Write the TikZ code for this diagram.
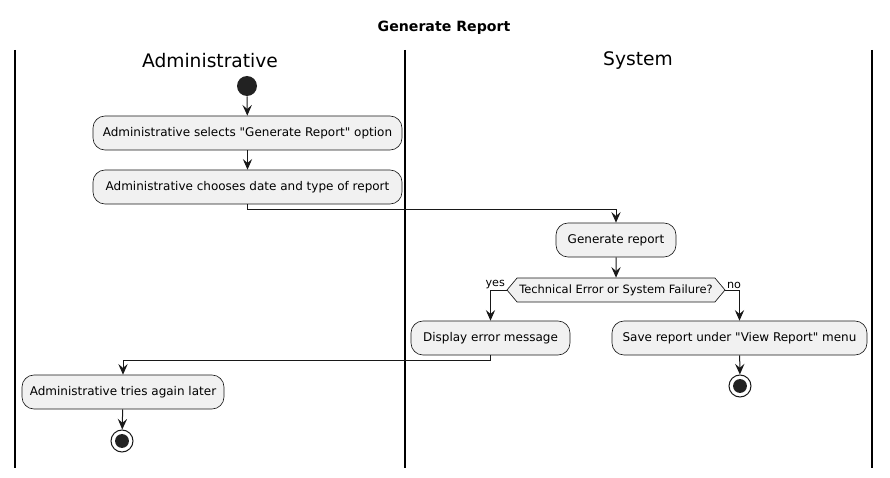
\documentclass[tikz,border=0pt]{standalone}
\usepackage{fontspec}
\setmainfont[Ligatures=TeXOff]{DejaVu Sans}
\usetikzlibrary{arrows.meta,shapes.symbols}
\definecolor{boxfill}{HTML}{F1F1F1}
\definecolor{ink}{HTML}{181818}
\definecolor{dot}{HTML}{222222}
\tikzset{
  act/.style={draw=ink,line width=0.5pt,fill=boxfill,rounded corners=9pt,minimum height=25.5pt,inner sep=0pt,font=\fontsize{9}{11}\selectfont,text=black},
  cond/.style={draw=ink,line width=0.5pt,fill=boxfill,shape=signal,signal to=west and east,signal pointer angle=100,minimum height=18pt,inner sep=0pt,font=\fontsize{8.6}{10}\selectfont},
  flow/.style={draw=ink,line width=0.75pt,-{Stealth[length=8pt,width=7pt,inset=3pt]}},
  startdot/.style={circle,fill=dot,minimum size=15pt,inner sep=0pt},
  enddot/.style={circle,draw=ink,line width=0.75pt,fill=white,minimum size=16.5pt,inner sep=0pt,path picture={\fill[dot] (path picture bounding box.center) circle (5.2pt);}},
  lane/.style={line width=1.2pt,black},
  lanehead/.style={font=\fontsize{14}{16}\selectfont},
  lbl/.style={font=\fontsize{8.4}{10}\selectfont,inner sep=0pt}
}
\begin{document}
\begin{tikzpicture}[x=0.75pt,y=-0.75pt]
\useasboundingbox (0,0) rectangle (890,478);
\node[font=\bfseries\fontsize{10.6}{12}\selectfont] (title) at (444,28) {Generate Report};
\draw[lane] (15,50) coordinate (l1t) -- (15,468) coordinate (l1b);
\draw[lane] (405,50) coordinate (l2t) -- (405,468) coordinate (l2b);
\draw[lane] (872,50) coordinate (l3t) -- (872,468) coordinate (l3b);
\node[lanehead] (h1) at (210,61) {Administrative};
\node[lanehead] (h2) at (638,61) {System};

\node[startdot] (s) at (247,86) {};
\node[act,minimum width=231.75pt] (b1) at (247.5,133) {Administrative selects "Generate Report" option};
\node[act,minimum width=231.75pt] (b2) at (247.5,187) {Administrative chooses date and type of report};
\node[act,minimum width=90pt] (b3) at (616,240) {Generate report};
\node[cond,minimum width=163.5pt] (d) at (616,290) {Technical Error or System Failure?};
\node[act,minimum width=119.25pt] (b4) at (490.5,338) {Display error message};
\node[act,minimum width=191.25pt] (b5) at (739.5,338) {Save report under "View Report" menu};
\node[enddot] (e1) at (740,386) {};
\node[act,minimum width=151.5pt] (b6) at (123,392) {Administrative tries again later};
\node[enddot] (e2) at (122,441) {};

\draw[flow] (s) -- (b1);
\draw[flow] (b1) -- (b2);
\draw[flow] (b2.south) -- ++(0,5) -| (b3.north);
\draw[flow] (b3) -- (d);
\draw[flow] (d.west) -| (b4.north);
\draw[flow] (d.east) -| (b5.north);
\draw[flow] (b5) -- (e1);
\draw[flow] (b4.south) -- ++(0,5) -| (b6.north);
\draw[flow] (b6) -- (e2);
\node[lbl,anchor=south east] (yes) at ([xshift=-1pt,yshift=1pt]d.west) {yes};
\node[lbl,anchor=south west] (no) at ([xshift=1pt,yshift=1pt]d.east) {no};
\end{tikzpicture}
\end{document}
